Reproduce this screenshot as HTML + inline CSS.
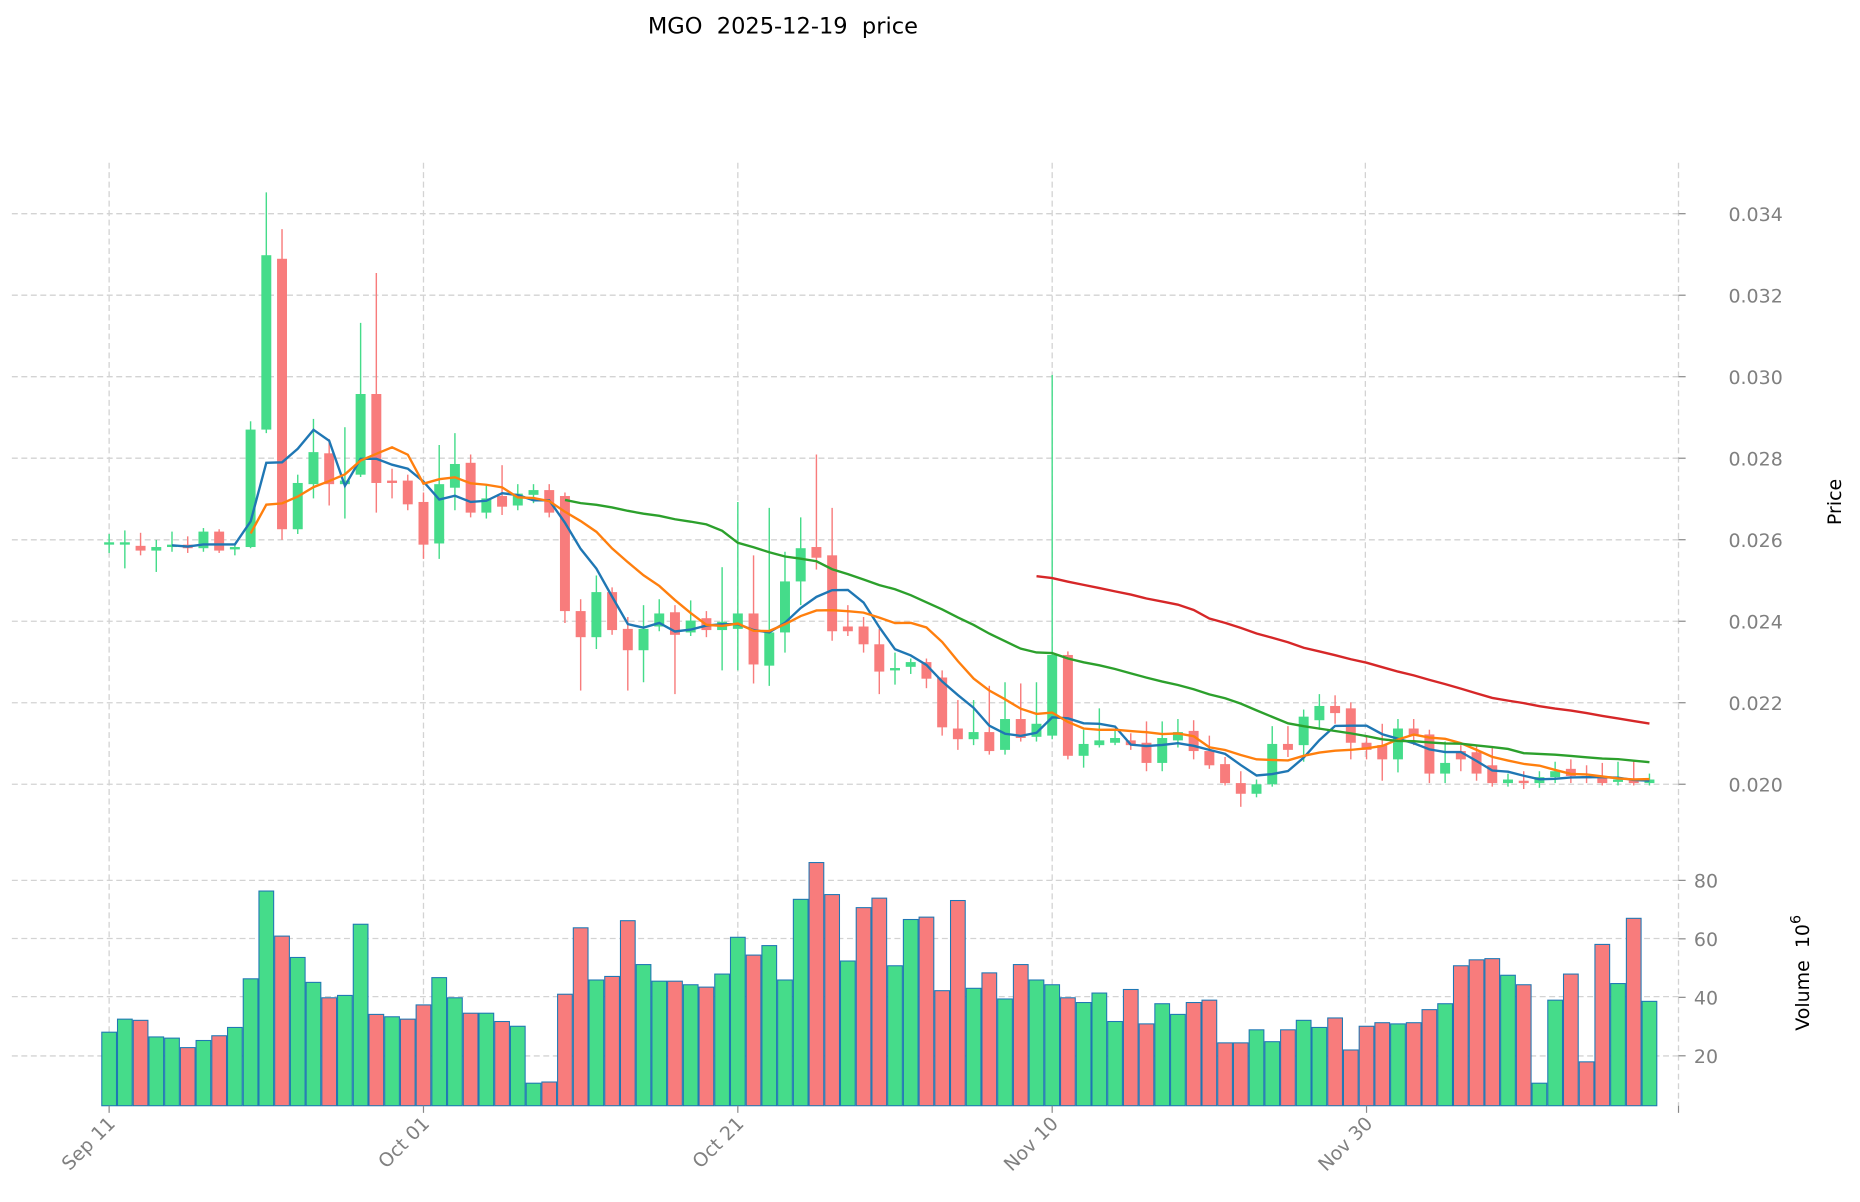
<!DOCTYPE html>
<html><head><meta charset="utf-8"><style>
html,body{margin:0;padding:0;background:#fff;}
svg{display:block;font-family:"DejaVu Sans","Liberation Sans",sans-serif;}
</style></head><body>
<svg id="c" width="1860" height="1202" viewBox="0 0 1568 1013" xmlns="http://www.w3.org/2000/svg">
<rect width="1568" height="1013" fill="#fff"/>
<text x="660" y="28" font-size="19" text-anchor="middle" fill="#000">MGO&#160; 2025-12-19&#160; price</text>
<g id="grid"></g>
<g id="vol"></g>
<g id="cand"></g>
<g id="ma"></g>
<g id="axes"></g>
<text transform="translate(1552,423) rotate(-90)" font-size="16" text-anchor="middle" fill="#000">Price</text>
<text transform="translate(1525,820) rotate(-90)" font-size="16" text-anchor="middle" fill="#000">Volume&#160; 10<tspan dy="-7" font-size="12">6</tspan></text>
</svg>
<script>
var NS="http://www.w3.org/2000/svg";
function el(p,t,a){var e=document.createElementNS(NS,t);for(var k in a)e.setAttribute(k,a[k]);document.getElementById(p).appendChild(e);return e;}
var G="#45dc8a",R="#f87c7c";
[180,248.7,317.4,386.1,454.9,523.6,592.3,661].forEach(function(y){el("grid","line",{x1:10,x2:1415,y1:y,y2:y,stroke:"#d3d3d3","stroke-dasharray":"5,3","stroke-width":1.1});});
[742,791,840,890].forEach(function(y){el("grid","line",{x1:10,x2:1415,y1:y,y2:y,stroke:"#d3d3d3","stroke-dasharray":"5,3","stroke-width":1.1});});
[92,357,622,887,1151,1415].forEach(function(x){el("grid","line",{x1:x,x2:x,y1:137,y2:932,stroke:"#d3d3d3","stroke-dasharray":"5,3","stroke-width":1.1});});
var pl=["0.034","0.032","0.030","0.028","0.026","0.024","0.022","0.020"];
pl.forEach(function(t,i){var y=180+i*68.71;el("axes","line",{x1:1415,x2:1421,y1:y,y2:y,stroke:"#888"});var e=el("axes","text",{x:1480,y:y+6,"font-size":16,fill:"#808080","text-anchor":"middle"});e.textContent=t;});
["80","60","40","20"].forEach(function(t,i){var y=742+i*49.3;el("axes","line",{x1:1415,x2:1421,y1:y,y2:y,stroke:"#888"});var e=el("axes","text",{x:1428,y:y+6,"font-size":16,fill:"#808080"});e.textContent=t;});
el("axes","line",{x1:1415,x2:1415,y1:932,y2:938,stroke:"#888"});
var xl=["Sep 11","Oct 01","Oct 21","Nov 10","Nov 30"];
xl.forEach(function(t,i){var x=92+i*265;el("axes","line",{x1:x,x2:x,y1:932,y2:938,stroke:"#888"});var e=el("axes","text",{transform:"translate("+(x+6)+",948) rotate(-45)","font-size":16,fill:"#808080","text-anchor":"end"});e.textContent=t;});
var C=[[459,457,450,466],[458,457,447,479],[460,464,449,468],[464,461,455,482],[461,459,448,465],[459,462,452,466],[462,448,445,465],[448,464,446,466],[463,461,458,468],[461,362,355,462],
[362,215,162,365],[218,446,193,455],[446,407,400,450],[408,381,353,420],[382,408,370,426],[408,405,360,437],[400,332,272,402],[332,407,230,432],[405,406,395,420],[405,425,400,430],
[423,459,415,471],[458,408,375,471],[411,391,365,430],[390,432,383,436],[432,420,408,437],[418,427,392,434],[426,416,408,430],[417,413,408,424],[413,432,408,436],[418,515,415,525],
[515,537,505,582],[537,499,485,547],[499,531,495,535],[530,548,520,582],[548,530,510,575],[528,517,505,532],[516,535,510,585],[533,523,506,536],[521,531,515,537],[531,524,478,565],
[530,517,423,565],[517,560,468,576],[561,533,428,578],[533,490,465,550],[490,462,436,510],[461,470,383,480],[468,532,428,540],[528,532,510,536],[528,543,520,550],[543,566,530,585],
[565,563,550,577],[562,558,555,568],[558,572,555,580],[571,613,565,620],[614,623,590,632],[623,617,590,628],[617,633,578,636],[632,606,575,636],[606,622,576,625],[621,610,575,625],
[620,552,316,623],[552,637,549,640],[637,627,615,647],[628,624,597,630],[626,622,615,628],[624,628,618,632],[626,643,608,650],[643,622,608,650],[624,617,606,630],[616,633,607,640],
[633,645,620,648],[644,660,638,662],[660,669,650,680],[669,661,657,672],[661,627,612,663],[627,632,612,638],[628,604,598,642],[607,595,585,615],[595,601,586,610],[597,626,592,640],
[626,632,620,640],[628,640,610,658],[640,614,606,651],[614,620,606,628],[619,652,615,660],[652,643,625,660],[633,640,628,650],[634,652,628,658],[645,660,630,663],[660,657,652,663],
[658,660,650,665],[660,655,650,664],[655,650,642,660],[648,654,640,660],[654,656,645,660],[654,660,643,662],[659,657,642,662],[657,660,641,662],[660,657,652,662]];
var V=[[870,1],[859,1],[860,0],[874,1],[875,1],[883,0],[877,1],[873,0],[866,1],[825,1],[751,1],[789,0],[807,1],[828,1],[841,0],[839,1],[779,1],[855,0],[857,1],[859,0],
[847,0],[824,1],[841,1],[854,0],[854,1],[861,0],[865,1],[913,1],[912,0],[838,0],[782,0],[826,1],[823,0],[776,0],[813,1],[827,1],[827,0],[830,1],[832,0],[821,1],
[790,1],[805,0],[797,1],[826,1],[758,1],[727,0],[754,0],[810,1],[765,0],[757,0],[814,1],[775,1],[773,0],[835,0],[759,0],[833,1],[820,0],[842,1],[813,0],[826,1],
[830,1],[841,0],[845,1],[837,1],[861,1],[834,0],[863,0],[846,1],[855,1],[845,0],[843,0],[879,0],[879,0],[868,1],[878,1],[868,0],[860,1],[866,1],[858,0],[885,0],
[865,0],[862,0],[863,1],[862,0],[851,0],[846,1],[814,0],[809,0],[808,0],[822,1],[830,0],[913,1],[843,1],[821,0],[895,0],[796,0],[829,1],[774,0],[844,1]];
var W=13.25;
V.forEach(function(v,i){var x=92+W*i;el("vol","rect",{x:x-6.2,y:v[0],width:12.4,height:932-v[0],fill:v[1]?G:R,stroke:"#1f77b4","stroke-width":0.9});});
C.forEach(function(c,i){var x=92+W*i,col=c[1]<=c[0]?G:R;el("cand","line",{x1:x,x2:x,y1:c[2],y2:c[3],stroke:col,"stroke-width":1.2});var t=Math.min(c[0],c[1]),h=Math.max(Math.abs(c[0]-c[1]),2);el("cand","rect",{x:x-4.2,y:t,width:8.4,height:h,fill:col});});
function ma(n,col){var p="";for(var i=n-1;i<C.length;i++){var s=0;for(var j=i-n+1;j<=i;j++)s+=C[j][1];p+=(p?"L":"M")+(92+W*i).toFixed(1)+","+(s/n).toFixed(1);}el("ma","path",{d:p,fill:"none",stroke:col,"stroke-width":2});}
ma(5,"#1f77b4");ma(10,"#ff7f0e");ma(30,"#2ca02c");ma(60,"#d62728");
</script>
</body></html>
